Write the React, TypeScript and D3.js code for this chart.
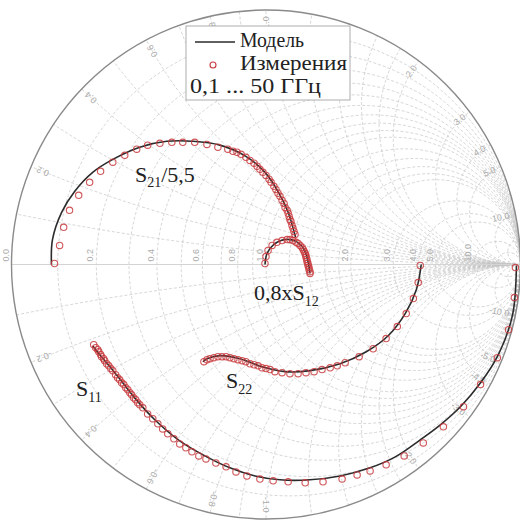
import React from "react";
import * as d3 from "d3";

// Smith chart of measured vs. modelled S-parameters, 0.1 ... 50 GHz.
// Reflection-coefficient points are [Re Γ, Im Γ].
type Pt = [number, number];

const W = 520;
const H = 526;
const CX = 266;
const CY = 264.5;
const R = 254.5;

// ---- grid values ----
const resistanceGrid = [0.1, 0.2, 0.3, 0.4, 0.5, 0.6, 0.7, 0.8, 0.9, 1, 1.2, 1.4, 1.6, 1.8, 2, 3, 4, 5, 10, 20];
const reactanceGrid = [0.1, 0.2, 0.3, 0.4, 0.5, 0.6, 0.7, 0.8, 0.9, 1, 1.2, 1.4, 1.6, 1.8, 2, 3, 4, 5, 10, 20];
const resistanceLabels = [0, 0.2, 0.4, 0.6, 0.8, 1, 2, 3, 4, 5, 10];
const reactanceLabels = [0.2, 0.4, 0.6, 0.8, 1, 2, 3, 4, 5, 10];

// ---- S21 / 5.5 ----
const s21Model: Pt[] = [
  [-0.843, 0.0], [-0.839, 0.098], [-0.803, 0.205], [-0.752, 0.287], [-0.681, 0.362],
  [-0.602, 0.413], [-0.496, 0.461], [-0.39, 0.484], [-0.287, 0.484], [-0.181, 0.469],
  [-0.079, 0.425], [-0.004, 0.362], [0.047, 0.287], [0.087, 0.205], [0.11, 0.13], [0.116, 0.108],
];
const s21Meas: Pt[] = [
  [-0.831, 0.004], [-0.811, 0.075], [-0.795, 0.146], [-0.772, 0.213], [-0.736, 0.272],
  [-0.693, 0.323], [-0.65, 0.366], [-0.602, 0.402], [-0.555, 0.429], [-0.508, 0.453],
  [-0.465, 0.469], [-0.417, 0.476], [-0.37, 0.48], [-0.327, 0.48], [-0.28, 0.48],
  [-0.232, 0.472], [-0.189, 0.461], [-0.15, 0.453], [-0.13, 0.445], [-0.114, 0.441],
  [-0.098, 0.433], [-0.079, 0.421], [-0.063, 0.409], [-0.047, 0.398], [-0.035, 0.386],
  [-0.024, 0.374], [-0.012, 0.362], [0.0, 0.35], [0.012, 0.335], [0.02, 0.323],
  [0.031, 0.307], [0.039, 0.295], [0.047, 0.28], [0.055, 0.268], [0.063, 0.252],
  [0.071, 0.24], [0.075, 0.224], [0.083, 0.213], [0.087, 0.201], [0.091, 0.189],
  [0.094, 0.177], [0.098, 0.169], [0.102, 0.154], [0.106, 0.142], [0.11, 0.13],
  [0.114, 0.118],
];

// ---- 0.8 x S12 ----
const s12Model: Pt[] = [
  [-0.004, 0.0], [0.004, 0.043], [0.031, 0.079], [0.075, 0.098], [0.118, 0.091],
  [0.15, 0.059], [0.165, 0.012], [0.173, -0.035],
];
const s12Meas: Pt[] = [
  [-0.004, 0.004], [0.0, 0.031], [0.008, 0.055], [0.024, 0.075], [0.043, 0.087],
  [0.063, 0.094], [0.083, 0.098], [0.094, 0.098], [0.106, 0.094], [0.118, 0.087],
  [0.126, 0.083], [0.134, 0.075], [0.142, 0.067], [0.146, 0.059], [0.15, 0.051],
  [0.154, 0.043], [0.157, 0.035], [0.157, 0.028], [0.161, 0.02], [0.161, 0.012],
  [0.165, 0.004], [0.165, -0.004], [0.169, -0.012], [0.169, -0.02], [0.173, -0.028],
  [0.173, -0.035],
];

// ---- S22 ----
const s22Model: Pt[] = [
  [0.61, 0.0], [0.591, -0.098], [0.547, -0.193], [0.48, -0.28], [0.394, -0.343],
  [0.291, -0.39], [0.173, -0.417], [0.075, -0.421], [-0.016, -0.402], [-0.102, -0.37],
  [-0.181, -0.358], [-0.232, -0.37], [-0.248, -0.382],
];
const s22Meas: Pt[] = [
  [0.606, -0.004], [0.598, -0.071], [0.579, -0.134], [0.551, -0.193], [0.516, -0.244],
  [0.472, -0.291], [0.421, -0.331], [0.366, -0.362], [0.311, -0.386], [0.28, -0.398],
  [0.252, -0.406], [0.22, -0.413], [0.189, -0.421], [0.157, -0.425], [0.126, -0.429],
  [0.094, -0.429], [0.063, -0.425], [0.035, -0.421], [0.016, -0.413], [0.0, -0.409],
  [-0.016, -0.406], [-0.031, -0.398], [-0.047, -0.394], [-0.063, -0.39], [-0.079, -0.382],
  [-0.094, -0.378], [-0.11, -0.374], [-0.126, -0.37], [-0.142, -0.366], [-0.157, -0.362],
  [-0.173, -0.362], [-0.189, -0.362], [-0.205, -0.366], [-0.22, -0.37], [-0.232, -0.374],
  [-0.244, -0.382],
];

// ---- S11 ----
const s11Model: Pt[] = [
  [0.984, -0.004], [0.969, -0.197], [0.913, -0.354], [0.843, -0.465], [0.764, -0.559],
  [0.685, -0.63], [0.606, -0.689], [0.508, -0.756], [0.409, -0.799], [0.291, -0.831],
  [0.173, -0.846], [0.055, -0.846], [-0.043, -0.831], [-0.142, -0.799], [-0.24, -0.752],
  [-0.339, -0.693], [-0.437, -0.61], [-0.516, -0.524], [-0.594, -0.425], [-0.654, -0.354],
  [-0.681, -0.319],
];
const s11Meas: Pt[] = [
  [0.98, -0.012], [0.976, -0.13], [0.953, -0.256], [0.909, -0.366], [0.843, -0.472],
  [0.776, -0.559], [0.697, -0.638], [0.618, -0.701], [0.543, -0.752], [0.472, -0.787],
  [0.409, -0.811], [0.358, -0.827], [0.299, -0.843], [0.224, -0.854], [0.154, -0.858],
  [0.087, -0.854], [0.028, -0.85], [-0.024, -0.843], [-0.075, -0.831], [-0.118, -0.815],
  [-0.157, -0.795], [-0.197, -0.78], [-0.236, -0.764], [-0.264, -0.752], [-0.291, -0.736],
  [-0.315, -0.72], [-0.339, -0.705], [-0.362, -0.685], [-0.386, -0.665], [-0.406, -0.646],
  [-0.425, -0.626], [-0.445, -0.606], [-0.465, -0.587], [-0.484, -0.563], [-0.496, -0.551],
  [-0.504, -0.543], [-0.512, -0.531], [-0.52, -0.524], [-0.528, -0.512], [-0.535, -0.504],
  [-0.543, -0.492], [-0.551, -0.484], [-0.559, -0.472], [-0.567, -0.465], [-0.575, -0.453],
  [-0.583, -0.445], [-0.591, -0.433], [-0.602, -0.417], [-0.61, -0.409], [-0.618, -0.398],
  [-0.626, -0.39], [-0.634, -0.378], [-0.638, -0.37], [-0.646, -0.362], [-0.65, -0.354],
  [-0.657, -0.343], [-0.661, -0.335], [-0.669, -0.327], [-0.677, -0.315],
];

const series = [
  { model: s21Model, meas: s21Meas },
  { model: s12Model, meas: s12Meas },
  { model: s22Model, meas: s22Meas },
  { model: s11Model, meas: s11Meas },
];

const legendLabels = ["Модель", "Измерения", "0,1 ... 50 ГГц"];
const legendWidths = [64, 107, 131];

const MARKER = "#c8383c";
const LINE = "#2b2b2b";
const GRID = "#c4c4c4";
const SERIF = "'Liberation Serif', 'Times New Roman', serif";

const gx = d3.scaleLinear().domain([-1, 1]).range([CX - R, CX + R]);
const gy = d3.scaleLinear().domain([-1, 1]).range([CY + R, CY - R]);
const span = (v: number) => gx(v) - gx(0);

const line = d3
  .line<Pt>()
  .x((d) => gx(d[0]))
  .y((d) => gy(d[1]))
  .curve(d3.curveCatmullRom.alpha(0.5));

const fmt = (v: number) => v.toFixed(1);

function SmithGrid() {
  return (
    <g>
      <defs>
        <clipPath id="unit-disk">
          <circle cx={gx(0)} cy={gy(0)} r={span(1)} />
        </clipPath>
      </defs>
      <g clipPath="url(#unit-disk)" fill="none" stroke={GRID} strokeWidth={0.7} strokeDasharray="3 2">
        {resistanceGrid.map((r) => (
          <circle key={"r" + r} cx={gx(r / (1 + r))} cy={gy(0)} r={span(1 / (1 + r))} />
        ))}
        {reactanceGrid.map((x) => (
          <g key={"x" + x}>
            <circle cx={gx(1)} cy={gy(1 / x)} r={span(1 / x)} />
            <circle cx={gx(1)} cy={gy(-1 / x)} r={span(1 / x)} />
          </g>
        ))}
      </g>
      <line x1={gx(-1)} x2={gx(1)} y1={gy(0)} y2={gy(0)} stroke="#d4d4d4" strokeWidth={1} />
      <circle cx={gx(0)} cy={gy(0)} r={span(1)} fill="none" stroke="#8a8a8a" strokeWidth={1.4} />
      <g fontFamily="'Liberation Sans', Arial, sans-serif" fontSize={9} fill="#ababab">
        {resistanceLabels.map((r) => {
          const px = gx((r - 1) / (r + 1));
          return (
            <text key={"rl" + r} transform={`translate(${px - 3},${gy(0) - 3}) rotate(-90)`}>
              {fmt(r)}
            </text>
          );
        })}
        {reactanceLabels.flatMap((x) =>
          [x, -x].map((v) => {
            const re = (v * v - 1) / (v * v + 1);
            const im = (2 * v) / (v * v + 1);
            const ang = (Math.atan2(-im, re) * 180) / Math.PI;
            const k = 0.975;
            return (
              <text
                key={"xl" + v}
                transform={`translate(${gx(re * k)},${gy(im * k)}) rotate(${ang})`}
                textAnchor="end"
                dy="0.35em"
              >
                {fmt(v)}
              </text>
            );
          })
        )}
      </g>
    </g>
  );
}

function Curves() {
  return (
    <g>
      {series.map((s, i) => (
        <g key={i}>
          <path d={line(s.model) ?? ""} fill="none" stroke={LINE} strokeWidth={1.6} />
          {s.meas.map((p, j) => (
            <circle
              key={j}
              cx={gx(p[0])}
              cy={gy(p[1])}
              r={3.2}
              fill="none"
              stroke={MARKER}
              strokeOpacity={0.85}
              strokeWidth={1.1}
            />
          ))}
        </g>
      ))}
    </g>
  );
}

function Labels() {
  return (
    <g fontFamily={SERIF} fontSize={22} fill="#222">
      <text x={135} y={182}>
        S<tspan dy={5} fontSize={14}>21</tspan>
        <tspan dy={-5}>/5,5</tspan>
      </text>
      <text x={254} y={300}>
        0,8xS<tspan dy={6} fontSize={14}>12</tspan>
      </text>
      <text x={226} y={388}>
        S<tspan dy={6} fontSize={14}>22</tspan>
      </text>
      <text x={76} y={396}>
        S<tspan dy={6} fontSize={14}>11</tspan>
      </text>
    </g>
  );
}

function Legend() {
  return (
    <g fontFamily={SERIF} fontSize={20} fill="#222">
      <rect x={186} y={26} width={164} height={74} fill="#fff" stroke="#9a9a9a" strokeWidth={0.8} />
      <line x1={195} x2={235} y1={42} y2={42} stroke={LINE} strokeWidth={1.6} />
      <text x={240} y={47} textLength={legendWidths[0]} lengthAdjust="spacingAndGlyphs">
        {legendLabels[0]}
      </text>
      <circle cx={213} cy={65} r={3} fill="none" stroke={MARKER} strokeWidth={1.1} />
      <text x={240} y={70} textLength={legendWidths[1]} lengthAdjust="spacingAndGlyphs">
        {legendLabels[1]}
      </text>
      <text x={190} y={93} textLength={legendWidths[2]} lengthAdjust="spacingAndGlyphs">
        {legendLabels[2]}
      </text>
    </g>
  );
}

export default function App() {
  return (
    <svg width={W} height={H} style={{ display: "block", position: "absolute", left: 0, top: 0 }}>
      <rect width={W} height={H} fill="#fff" />
      <SmithGrid />
      <Curves />
      <Labels />
      <Legend />
    </svg>
  );
}
